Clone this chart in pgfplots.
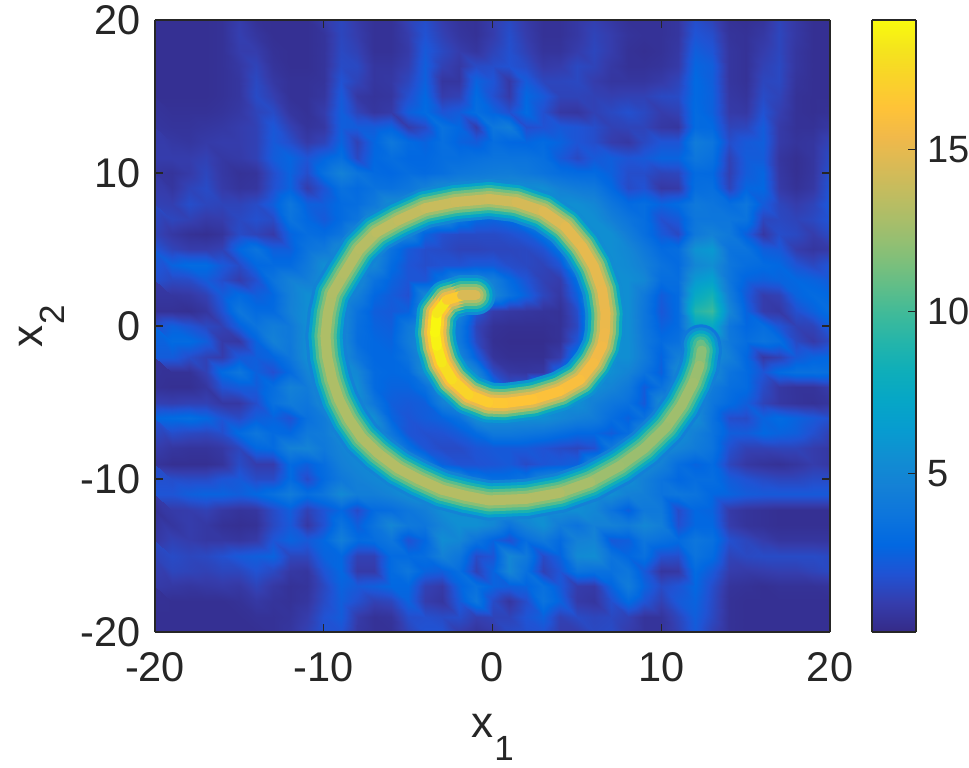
\documentclass[border=0pt]{standalone}
\usepackage{fontspec}
\setmainfont{Liberation Sans}
\usepackage{pgfplots}
\usepackage{pgfplotstable}
\pgfplotsset{compat=1.18}
\definecolor{axc}{rgb}{0.15,0.15,0.15}
\pgfplotsset{parula/.style={colormap={parula}{rgb=(0.2081,0.1663,0.5292) rgb=(0.2081,0.2386,0.6771) rgb=(0.1253,0.3242,0.8303) rgb=(0.0060,0.4086,0.8828) rgb=(0.0498,0.4586,0.8641) rgb=(0.0779,0.5040,0.8384) rgb=(0.0641,0.5570,0.8240) rgb=(0.0265,0.6137,0.8135) rgb=(0.0228,0.6535,0.7768) rgb=(0.0590,0.6838,0.7254) rgb=(0.1453,0.7098,0.6646) rgb=(0.2586,0.7317,0.5954) rgb=(0.3953,0.7459,0.5244) rgb=(0.5300,0.7491,0.4661) rgb=(0.6473,0.7456,0.4188) rgb=(0.7525,0.7384,0.3768) rgb=(0.8507,0.7299,0.3360) rgb=(0.9450,0.7261,0.2886) rgb=(0.9990,0.7653,0.2164) rgb=(0.9789,0.8271,0.1633) rgb=(0.9589,0.8949,0.1132) rgb=(0.9763,0.9831,0.0538)},
 point meta min=0.12,point meta max=19}}
\pgfplotstableread{
x y v
12.35 -1.2 10.5
12.4 -1.6 11.5
12.26 -2.6 12.3
11.9 -3.7 12.5
11.2 -5.2 12.6
10.3 -6.6 12.5
9.0 -8.0 12.4
7.55 -9.15 12.4
5.8 -10.2 12.6
4.0 -10.9 13
2.0 -11.3 13.2
-0.2 -11.4 13.2
-1.6 -11.1 13.2
-3 -10.7 13.3
-4.4 -10 13.2
-5.6 -9.3 13.2
-6.8 -8.3 13.2
-7.75 -7.3 13
-8.5 -6.1 13
-9.1 -4.8 13
-9.5 -3.5 13
-9.8 -2 13
-9.9 -0.65 13
-9.76 0.83 13
-9.5 2.1 13
-8.8 3.4 13.2
-7.9 5 13.2
-6.9 6.1 13.4
-5.6 6.9 13.6
-4 7.7 13.8
-2.2 8.1 14
-0.2 8.3 14
1.4 8.1 14.2
3 7.5 14.5
4.3 6.5 14.8
5.3 5.2 15
6 3.9 15
6.5 2.35 15
6.7 0.83 15.2
6.65 -0.44 15.2
6.5 -1.3 15.4
6 -2.4 15.6
5.2 -3.5 15.8
4 -4.25 16
2.4 -4.8 16.2
0.65 -5.05 16.5
-0.24 -5 16.6
-1.4 -4.5 17
-2.4 -3.5 17.5
-3 -2.4 18
-3.3 -1.3 18.5
-3.4 -0.44 18.8
-3.3 0.83 18.9
-2.7 1.7 17.5
-1.8 2 16
-1 2 13
}\ridge
\newcommand\ridgelayer[2]{\addplot3[mesh,mesh/rows=1,mesh/cols=56,point meta=explicit,line width=#1bp,line cap=round,line join=round] table[x=x,y=y,z expr=0,meta expr=\thisrow{v}*#2] {\ridge};}
\begin{document}
\begin{tikzpicture}
\path[use as bounding box] (-155bp,-136bp) rectangle (814bp,632bp);
\begin{axis}[
  at={(0,0)},anchor=south west,scale only axis,width=675bp,height=612bp,
  view={0}{90},xmin=-20,xmax=20,ymin=-20,ymax=20,axis on top,parula,
  xtick={-20,-10,0,10,20},ytick={-20,-10,0,10,20},
  xticklabels={-20,-10,0,10,20},yticklabels={-20,-10,0,10,20},
  tick align=inside,tick style={axc,line width=1.2bp},major tick length=8bp,
  axis line style={axc,line width=1.2bp},
  ticklabel style={font=\fontsize{41.5bp}{42bp}\selectfont,text=axc},
  x tick label style={yshift=-17bp},
  y tick label style={xshift=-11bp},
  xlabel={x\hspace{1bp}\raisebox{-23bp}{\fontsize{35bp}{36bp}\selectfont 1}},
  ylabel={x\hspace{1bp}\raisebox{-22bp}{\fontsize{35bp}{36bp}\selectfont 2}},
  label style={font=\fontsize{44bp}{44bp}\selectfont,text=axc},
  x label style={at={(axis description cs:0.5,-0.173)},anchor=base},
  y label style={at={(axis description cs:-0.166,0.5)},anchor=base},
]
\addplot3[surf,shader=interp,mesh/rows=41,mesh/cols=41] table[row sep=crcr,header=false,
  x expr={mod(\coordindex,41)-20},y expr={20-floor(\coordindex/41)},z expr=\thisrowno{0}] {
.4\\.4\\.4\\.4\\.5\\1\\.5\\.4\\.4\\.4\\.9\\1.4\\.9\\.5\\.5\\1.2\\1.7\\1\\.6\\.5\\1\\1.5\\.9\\.5\\.5\\.8\\1.1\\.8\\.5\\.5\\.5\\.7\\1.7\\1.3\\.5\\.4\\.6\\1.3\\.8\\.4\\.4\\
.4\\.4\\.4\\.4\\.5\\1.1\\.7\\.4\\.4\\.4\\.6\\1.4\\1\\.5\\.5\\1\\1.9\\1.2\\.7\\.5\\1\\1.7\\1\\.5\\.5\\.8\\1.3\\1\\.6\\.5\\.5\\.7\\2\\1.7\\.6\\.5\\.8\\1.4\\.8\\.4\\.4\\
.4\\.4\\.4\\.4\\.5\\1\\1\\.5\\.4\\.4\\.6\\1.5\\1.2\\.5\\.5\\.9\\2.2\\1.5\\1\\.7\\1.3\\1.8\\1.2\\.6\\.6\\1\\1.4\\1\\.5\\.4\\.5\\.8\\2.4\\2\\.7\\.5\\1\\1.4\\.7\\.4\\.4\\
.4\\.4\\.4\\.4\\.5\\.8\\1.3\\.6\\.4\\.4\\.6\\1.6\\1.5\\.7\\.7\\1.1\\2.4\\1.2\\.8\\1.6\\1.7\\1.9\\1.6\\.9\\1\\1.5\\1.3\\.8\\.5\\.5\\.6\\.9\\2.7\\2.4\\.7\\.5\\1.2\\1.5\\.7\\.4\\.4\\
.4\\.4\\.4\\.4\\.5\\.7\\1.5\\.8\\.5\\.5\\.6\\1.9\\1.3\\.7\\.8\\1.4\\2.5\\.7\\.7\\2.6\\2\\.8\\2.3\\1.4\\1.4\\1.5\\1\\.7\\.7\\.7\\.9\\1.3\\2.9\\2.4\\.7\\.5\\1.4\\1.5\\.6\\.4\\.4\\
.4\\.4\\.4\\.4\\.5\\.7\\1.6\\1.1\\.5\\.5\\.7\\2.2\\.8\\.6\\.7\\1.8\\2.8\\1\\1.2\\3\\1.8\\.9\\2.8\\2.2\\1.3\\1.3\\1.2\\1.1\\1.2\\1.2\\1.5\\1.6\\2.9\\2.5\\.8\\.6\\1.6\\1.3\\.5\\.4\\.4\\
.5\\.5\\.5\\.5\\.6\\.8\\1.3\\1.6\\.7\\.5\\1\\2.4\\1.3\\.7\\.9\\2.4\\3\\2\\2.3\\3.2\\2.6\\1.8\\3\\1.8\\.8\\.7\\1.2\\1.5\\1.8\\1.5\\1\\1.2\\3\\2.5\\.9\\.8\\1.9\\1.1\\.5\\.4\\.5\\
.7\\.6\\.6\\.7\\.8\\1\\1.2\\2.1\\1.2\\.6\\.8\\2.4\\2.3\\2.3\\2.6\\1\\1.6\\3.5\\2.8\\1\\3.8\\4.3\\1.7\\1.9\\2.2\\2\\1.7\\1.2\\1.3\\1.3\\.8\\.7\\3\\2.9\\1.3\\1.4\\2.3\\.9\\.5\\.5\\.8\\
.9\\.8\\.7\\.9\\1\\1\\1.2\\2.2\\1.7\\.9\\1.3\\2.6\\1.2\\2.7\\3.9\\3\\2.6\\3.3\\2.6\\2.3\\3.2\\2.8\\2.7\\3\\2.6\\2\\1.7\\1\\.8\\1.5\\2\\2\\4.2\\3.7\\1.7\\2.2\\2.4\\.9\\.6\\.7\\1.3\\
1\\1\\1\\1.2\\.8\\.9\\1.2\\2.3\\2.7\\2\\2.7\\3.3\\1.5\\2.8\\3.2\\2.8\\2.8\\3.2\\3.2\\3.4\\3.6\\3.6\\3.6\\3.3\\2.2\\1.5\\2.2\\2.4\\2\\2.2\\2.6\\2.6\\3.8\\3.4\\1.2\\2.3\\2.3\\.7\\.4\\.7\\1.6\\
.7\\.6\\.9\\1.4\\.8\\.5\\.6\\1.7\\2.6\\1.7\\3.4\\4.6\\3.7\\3\\2.8\\3.2\\3\\3.3\\3.8\\4\\4.2\\4.3\\4\\3.6\\3.2\\3\\3\\2.5\\1.7\\1.7\\1.3\\1.4\\3\\2.9\\1.1\\2.3\\2.7\\.8\\.4\\.7\\1.8\\
.8\\.7\\1.3\\1.6\\.9\\.6\\.7\\1.8\\2.6\\1\\2\\3.4\\3\\3.5\\3.4\\3.8\\4.6\\5.5\\5.5\\5.5\\5.5\\5.5\\5.5\\5.5\\4.6\\4.2\\4\\2.9\\1.6\\1.9\\.8\\.9\\3.2\\3.3\\1.3\\2.7\\2.8\\.9\\.5\\.8\\2\\
1.2\\1.1\\1.7\\1.4\\1.3\\1.3\\1.6\\2.4\\3.8\\2.5\\2.4\\3\\3.2\\4\\5.5\\5.5\\5.5\\5.5\\5.5\\5.5\\5.5\\5.5\\5.5\\5.5\\5.5\\5.5\\5\\3.8\\3\\3.2\\2.6\\3\\4\\3.7\\3.2\\3.8\\2.3\\1.4\\1\\1.3\\2.2\\
1.6\\1.4\\1.2\\.9\\1\\1.5\\1.8\\1.6\\3.6\\2.8\\2.2\\3\\3.7\\5.5\\5.5\\5.5\\5.5\\5.5\\3.8\\2.8\\2.6\\3\\4.5\\5.5\\5.5\\5.5\\5.5\\4.5\\3.7\\3.2\\1.8\\2.2\\3.8\\3.8\\3.8\\3.6\\1.4\\1.5\\1.3\\1.5\\2\\
1.3\\.8\\.5\\.4\\.6\\1.6\\1.3\\.9\\2.6\\3.2\\3\\3.7\\5.5\\5.5\\5.5\\5\\2.6\\1.8\\1.6\\1.6\\1.6\\1.8\\2.2\\3.5\\5.5\\5.5\\5.5\\5.5\\4.3\\3.3\\2.2\\1.5\\4\\4.6\\4\\2.4\\.8\\1.7\\1.5\\1\\1.6\\
2\\1.3\\1\\1\\1.2\\2.8\\3.6\\2.4\\2.4\\3.6\\4\\5.5\\5.5\\5.5\\3.5\\2.2\\1.7\\1.6\\1.3\\1.3\\1.4\\1.4\\1.5\\1.9\\3.5\\5.5\\5.5\\5.5\\5\\4\\3\\3.2\\5.8\\6.2\\3.6\\3.6\\2.4\\2.2\\1\\.7\\.9\\
2.4\\2.6\\3\\3\\2.2\\1.6\\2.8\\3\\3\\4\\5.5\\5.5\\5.5\\5\\3\\2\\1.7\\1.9\\1.9\\2.2\\2.2\\1.7\\1.5\\1.3\\2\\5.5\\5.5\\5.5\\5.2\\4.5\\3.5\\3\\5\\5.5\\3.8\\3.2\\3\\2.8\\2\\1.5\\2\\
1.8\\1.5\\1.6\\2.3\\1.7\\1\\1.8\\3.6\\4.6\\4.4\\5.5\\5.5\\5.5\\3.5\\2.6\\2\\2\\3.5\\5\\5\\4.5\\3\\2\\1.2\\1\\3.2\\5.5\\5.5\\5.5\\5\\3.2\\3.2\\6.2\\6.8\\3.8\\2.6\\2.4\\2.6\\2.8\\2.6\\2.3\\
.9\\.7\\.8\\1.2\\2.3\\3\\2.4\\2.8\\4.5\\5.5\\5.5\\5.5\\4.5\\2.8\\2.3\\1.8\\5\\5.5\\5.5\\5.5\\5\\3.5\\2.5\\1.4\\.8\\2.5\\5.5\\5.5\\5.5\\4\\2.3\\3\\7.5\\8.5\\4.3\\2.2\\1\\1.2\\2.6\\3\\2.8\\
.5\\.5\\.4\\.7\\1.9\\3.8\\3\\3\\4.6\\5.5\\5.5\\5.5\\3.5\\2.4\\2.2\\2.5\\5.5\\5.5\\5\\2\\1\\.8\\.7\\.6\\.5\\1.7\\5.5\\5.5\\5.5\\3.8\\2.1\\3\\9\\9.8\\5\\2.6\\1\\.8\\1.8\\2.5\\3.2\\
1.8\\2.5\\2\\1.5\\1.2\\2.5\\3.6\\4.3\\4\\5.5\\5.5\\5.5\\3.3\\2.6\\2.4\\4\\5.5\\5.5\\4\\1.3\\.5\\.4\\.4\\.4\\.5\\1.5\\5.5\\5.5\\5.5\\3.8\\2.5\\3\\7\\7.5\\3.8\\2.8\\3.2\\2\\1.2\\1.3\\2.4\\
2.8\\3\\3\\2.4\\.9\\.8\\2.6\\4.6\\4\\5.5\\5.5\\5.5\\3.2\\2.8\\2.6\\4.2\\5.5\\5.5\\4\\1.5\\.4\\.3\\.3\\.3\\.5\\2\\5.5\\5.5\\5.5\\4\\3\\3.4\\5.5\\5.5\\4\\3.2\\3.6\\3.2\\1.5\\.9\\1.6\\
2.3\\2.3\\1.7\\1.2\\1\\2.2\\2.4\\2.7\\3.8\\5.5\\5.5\\5.5\\3.8\\2.8\\2.8\\3.6\\5.5\\5.5\\5\\2.5\\.6\\.4\\.4\\.4\\1\\3.5\\5.5\\5.5\\5.5\\4.2\\2.6\\4.5\\5.5\\5.5\\4.5\\2.8\\.8\\1.2\\2.2\\2.6\\2.8\\
.6\\.5\\.5\\1.2\\3\\3.8\\2.5\\1.8\\3\\4.8\\5.5\\5.5\\5\\3\\2.8\\3\\5.5\\5.5\\5.5\\5\\1.6\\.8\\.7\\.8\\2.8\\5.5\\5.5\\5.5\\4.8\\3.6\\2.4\\5.5\\5.5\\5.5\\3.6\\3\\2\\3\\3.4\\3.4\\3.3\\
.5\\.4\\.4\\.7\\1.9\\2.3\\2.3\\3.2\\4.6\\4.2\\5.5\\5.5\\5.5\\3\\2.6\\2.6\\3.4\\5.5\\5.5\\5.5\\3.5\\1.8\\2\\4.5\\5.5\\5.5\\5.5\\4.8\\4\\2.3\\3.5\\5.5\\5.5\\4.2\\3.3\\3\\1.6\\.8\\.6\\.6\\1\\
1.2\\1.1\\1.2\\1.2\\.8\\.8\\1.7\\3.4\\4.2\\3.8\\5.3\\5.5\\5.5\\3.8\\2.4\\2.2\\2.4\\4.5\\5.5\\5.5\\5.5\\5.5\\5.5\\5.5\\5.5\\5.5\\4.5\\3.8\\3.4\\2.2\\5.5\\5.5\\5.5\\3.8\\3\\2.4\\1.3\\.8\\.6\\.5\\.7\\
2.8\\3\\3.2\\2.8\\2\\1.6\\2.4\\2.6\\1.9\\3.4\\4.2\\5.5\\5.5\\5.5\\2.7\\2\\2.3\\2.6\\3.4\\5.5\\5.5\\5.5\\5.5\\5.5\\5\\4.5\\4.2\\3.2\\2.5\\3.5\\5.5\\5.5\\5.5\\3.5\\1.7\\1.6\\2.6\\3\\2.6\\2.2\\1.8\\
2\\1.7\\1.5\\1.4\\1.7\\3\\3.8\\3\\2.8\\4\\4.2\\5.5\\5.5\\5.5\\3.8\\2\\1.8\\1.9\\2.3\\3\\4\\4\\3.8\\3.6\\3.2\\2.8\\2.8\\2.3\\3.2\\5.5\\5.5\\5.5\\4.5\\3.6\\2.4\\2.3\\2.8\\2.6\\2.4\\1.8\\1.2\\
1\\.7\\.6\\.6\\.8\\1.4\\2.8\\3\\4.6\\4.8\\4\\4.8\\5.5\\5.5\\5.5\\3.4\\2\\1.6\\1.6\\2\\2.2\\2.2\\2.2\\1.9\\1.6\\1.4\\1.8\\4\\5.5\\5.5\\5.5\\4.8\\4.2\\3.6\\1.8\\1.2\\1.2\\1.3\\1.3\\1\\.8\\
.6\\.4\\.4\\.4\\.6\\1.6\\1\\1\\3\\2.4\\3.2\\4.5\\5\\5.5\\5.5\\5.5\\4.5\\2.5\\1.9\\1.9\\2\\2.2\\1.6\\2\\2.2\\2.5\\5\\5.5\\5.5\\5.5\\4.6\\3.2\\2.6\\3\\1.4\\.8\\.6\\.5\\.7\\1\\.8\\
1.6\\1.7\\1.6\\1.6\\2\\2.2\\1.6\\1.6\\3\\1.6\\3\\4\\4.6\\5\\5.5\\5.5\\5.5\\5.5\\5.5\\3.8\\3.2\\3.2\\3.6\\5\\5.5\\5.5\\5.5\\5.5\\5.5\\4.5\\3.6\\2.8\\3.2\\3.2\\2.3\\1.9\\1.6\\1.4\\1.4\\1.6\\1.6\\
2\\2\\2.4\\2.6\\2.6\\2.4\\2.8\\3.4\\4.2\\3.2\\3.8\\5.2\\4.4\\4.4\\4.8\\5.5\\5.5\\5.5\\5.5\\5.5\\5.5\\5.5\\5.5\\5.5\\5.5\\5.5\\5.5\\5.5\\4.6\\4.4\\3.6\\3.8\\3.6\\2.8\\2.6\\2.3\\2.2\\2.2\\2.2\\2.2\\2.2\\
.9\\.9\\1\\1.2\\.8\\.6\\.7\\1.6\\2.4\\1.2\\2\\2.8\\1.6\\3\\3.2\\3.8\\4.4\\5.5\\5.5\\5.5\\5.5\\5.5\\5.5\\5.5\\5.5\\5.5\\5\\3.6\\2.4\\4\\4\\1.6\\2.8\\2.6\\.9\\.6\\.5\\.4\\.4\\.4\\.4\\
.5\\.7\\1\\.8\\.5\\.4\\.5\\1.5\\2.2\\.8\\1.9\\3.6\\2.4\\3.6\\5\\4\\3.8\\4.8\\5.6\\5.6\\5\\3.6\\4.8\\5.6\\4.2\\3.6\\4.6\\4.6\\4.2\\5\\4.4\\1.8\\2.8\\2.8\\1\\.6\\.5\\.4\\.4\\.4\\.4\\
.8\\1.2\\1\\.8\\.8\\.7\\.9\\2\\2.6\\2.2\\2.8\\4.4\\3\\3.2\\3.8\\1.9\\2.8\\5.4\\5\\3.6\\2.6\\1.8\\3.2\\4\\3\\4.6\\4.8\\2.2\\2.4\\3.8\\3.4\\3\\3.8\\3.4\\1.8\\1.4\\1\\.7\\.7\\.7\\.7\\
1.5\\1.6\\1.4\\1.5\\1.8\\2.2\\2.4\\2.6\\1.4\\1.4\\2.6\\2.8\\1.2\\1.2\\3\\3\\3.2\\4.6\\3.8\\1.6\\2\\5\\4\\1.6\\2.6\\5.2\\5.4\\3.6\\2.8\\3.4\\1.8\\1.7\\3.6\\3\\1.3\\1.5\\1.6\\1.6\\1.6\\1.6\\1.5\\
1.3\\1.4\\1.3\\1.2\\1.4\\1.4\\1.9\\1.5\\.8\\.7\\2\\2.8\\.9\\.9\\3\\3.8\\2.6\\2.4\\3.2\\1.2\\2.6\\5\\3.4\\1.2\\2\\3.6\\3.4\\3.4\\3.8\\2.2\\.7\\.8\\3\\2.2\\1\\.9\\1\\1.1\\1.1\\1.3\\1.5\\
.9\\.8\\.7\\.8\\.9\\.8\\1.3\\.8\\.5\\.6\\1.5\\2.6\\2.2\\2.4\\2.8\\2.8\\1.2\\.9\\2.6\\3.4\\2.6\\2.4\\2.6\\3.4\\2.2\\1\\.9\\2.6\\4.2\\2.6\\1.6\\2\\2.8\\1.7\\.6\\.5\\.4\\.5\\.5\\.5\\.6\\
.5\\.4\\.4\\.4\\.4\\.5\\.8\\.6\\.5\\.7\\1.6\\2.4\\1.8\\1.2\\1.4\\2.6\\1\\.7\\2.2\\3.8\\1.6\\.7\\1.7\\3.6\\2.6\\.9\\.7\\1.8\\3\\2\\1.2\\2.2\\2.6\\1.6\\.5\\.4\\.4\\.4\\.4\\.4\\.4\\
.4\\.4\\.4\\.4\\.4\\.4\\.5\\.5\\.6\\1\\1.9\\2.3\\.9\\.5\\.6\\1.7\\1.8\\1.6\\1.7\\1.1\\1.3\\1.3\\2\\2.5\\1.2\\1.6\\1.4\\1.5\\1.2\\.6\\.6\\1.4\\2.4\\1.5\\.5\\.4\\.4\\.4\\.4\\.4\\.4\\
.4\\.4\\.4\\.4\\.4\\.4\\.4\\.5\\.7\\1.2\\1.9\\1.9\\.8\\.5\\.5\\1.3\\1.9\\1.9\\1\\.6\\.9\\1.6\\1.8\\1.9\\1\\1\\1.5\\1.6\\1\\.6\\.6\\1.2\\2.2\\1.2\\.5\\.4\\.4\\.4\\.4\\.4\\.4\\
};
\ridgelayer{40}{0.36}
\ridgelayer{34}{0.5}
\ridgelayer{28}{0.66}
\ridgelayer{22}{0.8}
\ridgelayer{16}{0.9}
\ridgelayer{10}{1}
\end{axis}
\begin{axis}[
  at={(717bp,0)},anchor=south west,scale only axis,width=44bp,height=612bp,
  view={0}{90},xmin=0,xmax=1,ymin=0.12,ymax=19,axis on top,parula,
  xtick=\empty,ytick={5,10,15},yticklabels={5,10,15},
  tick pos=right,yticklabel pos=right,
  tick align=inside,tick style={axc,line width=1.2bp},major tick length=8bp,
  axis line style={axc,line width=1.2bp},
  ticklabel style={font=\fontsize{38bp}{38bp}\selectfont,text=axc},
  y tick label style={xshift=8bp},
]
\addplot3[surf,shader=interp,mesh/rows=2,mesh/cols=2] coordinates {(0,0.12,0.12) (1,0.12,0.12) (0,19,19) (1,19,19)};
\end{axis}
\end{tikzpicture}
\end{document}
